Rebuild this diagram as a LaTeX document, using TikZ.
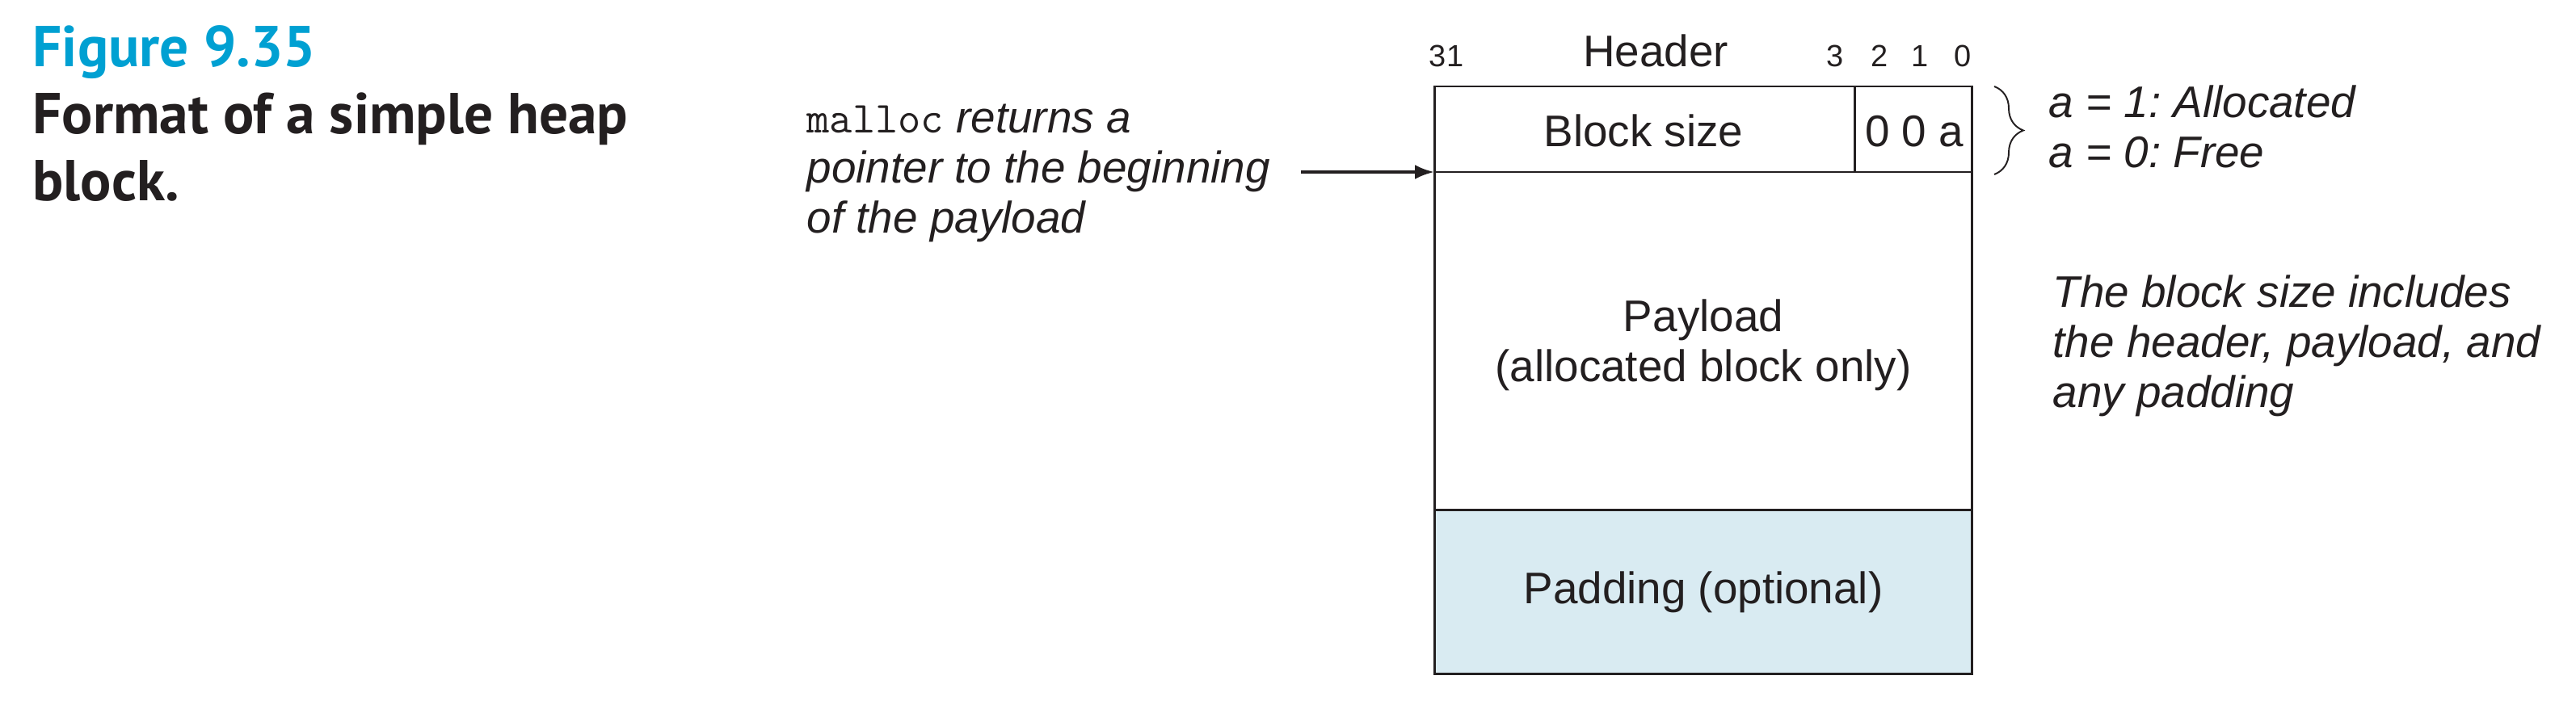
\documentclass[tikz,border=0pt]{standalone}
\usepackage{fontspec}
\setmainfont{Liberation Sans}
\newfontfamily\capfont{PT Sans}
\frenchspacing
\usetikzlibrary{arrows.meta,decorations.pathreplacing}
\definecolor{figblue}{RGB}{0,160,210}
\definecolor{padblue}{RGB}{217,235,242}
\definecolor{inkblack}{RGB}{35,31,32}

\begin{document}
\begin{tikzpicture}[scale=1,
  boxline/.style={inkblack, line width=0.85pt},
  ptrarrow/.style={inkblack, line width=1.1pt, -{Latex[length=2.4mm,width=1.8mm]}},
  bracestyle/.style={inkblack, line width=0.55pt, decorate, decoration={brace, amplitude=0.36cm}},
  txt/.style={inner sep=0pt, anchor=base, text=inkblack, font=\fontsize{15.6}{17.6}\selectfont},
  bitnum/.style={inner sep=0pt, anchor=base, text=inkblack, font=\fontsize{10.8}{13}\selectfont},
  note/.style={inner sep=0pt, anchor=base west, align=left, text=inkblack, font=\fontsize{15.6}{17.6}\selectfont\itshape},
  caption/.style={inner sep=0pt, anchor=base west, align=left, text=inkblack, font=\capfont\bfseries\fontsize{20.3}{23.6}\selectfont}]
\useasboundingbox (0,0) rectangle (31.88,-8.72);

\coordinate (hdrnw) at (17.75,-1.07);
\coordinate (hdrne) at (24.40,-1.07);
\coordinate (hdrsw) at (17.75,-2.13);
\coordinate (hdrse) at (24.40,-2.13);
\coordinate (paysw) at (17.75,-6.31);
\coordinate (payse) at (24.40,-6.31);
\coordinate (padse) at (24.40,-8.34);
\coordinate (bitsn) at (22.95,-1.07);
\coordinate (bitss) at (22.95,-2.13);

\fill [padblue] (paysw) rectangle (padse);
\draw [boxline] (hdrnw) rectangle (padse);
\draw [boxline] (hdrsw)--(hdrse);
\draw [boxline] (paysw)--(payse);
\draw [boxline] (bitsn)--(bitss);

\node [caption, text=figblue] (figno) at (0.40,-0.82) {Figure 9.35};
\node [caption] (figcap) at (0.40,-2.48) {Format of a simple heap\\block.};

\node [bitnum] (b31) at (17.90,-0.83) {31};
\node [bitnum] (b3) at (22.71,-0.83) {3};
\node [bitnum] (b2) at (23.26,-0.83) {2};
\node [bitnum] (b1) at (23.76,-0.83) {1};
\node [bitnum] (b0) at (24.29,-0.83) {0};
\node [txt] (hdrlbl) at (20.49,-0.82) {Header};

\node [txt] (bsize) at (20.34,-1.81) {Block size};
\node [txt] (abits) at (23.69,-1.81) {0 0 a};
\node [txt, align=center] (payload) at (21.08,-4.72) {Payload\\(allocated block only)};
\node [txt] (padlbl) at (21.08,-7.47) {Padding (optional)};

\draw [bracestyle] (24.68,-1.07) -- (24.68,-2.16);
\node [note] (abitnote) at (25.35,-2.07) {a = 1: Allocated\\a = 0: Free};
\node [note] (sizenote) at (25.40,-5.04) {The block size includes\\the header, payload, and\\any padding};

\node [note] (mallocnote) at (9.98,-2.88) {{\upshape\ttfamily malloc} returns a\\pointer to the beginning\\of the payload};
\coordinate (arrstart) at (16.10,-2.13);
\draw [ptrarrow] (arrstart) -- (hdrsw);

\end{tikzpicture}
\end{document}
